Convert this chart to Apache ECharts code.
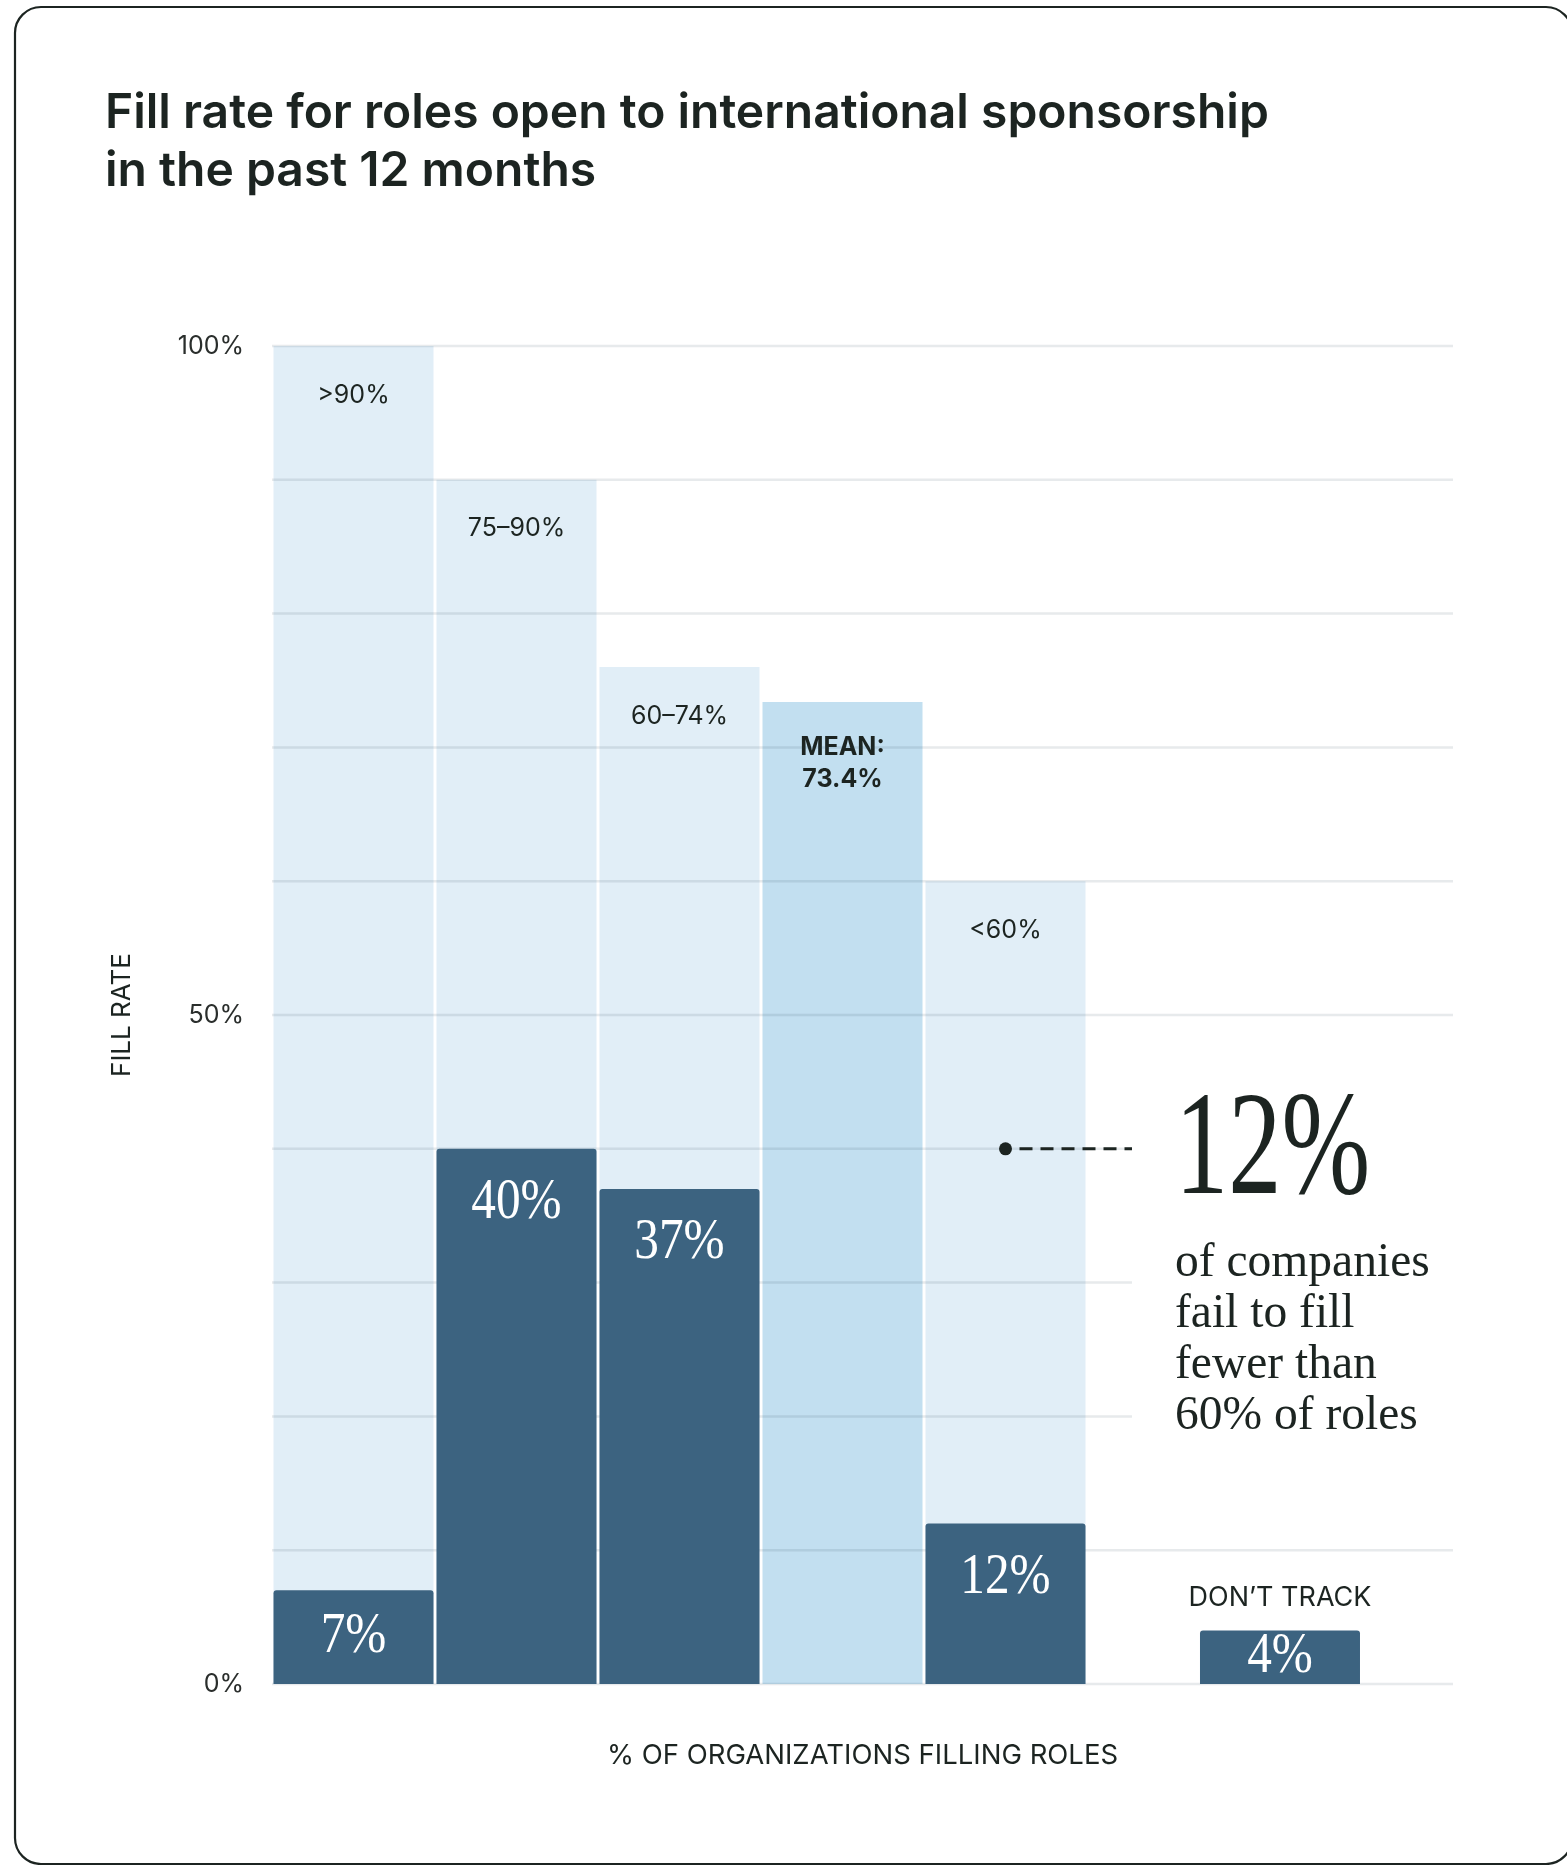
<!DOCTYPE html>
<html>
<head>
<meta charset="utf-8">
<style>
  html, body { margin: 0; padding: 0; background: #ffffff; }
  #chart { width: 1567px; height: 1865px; }
</style>
<script src="https://cdn.jsdelivr.net/npm/echarts@6/dist/echarts.min.js"></script>
</head>
<body>
<div id="chart"></div>
<script>
// ---- Data ----------------------------------------------------------------
// Fill-rate bins: label and the fill-rate level at the top of each band (%)
const binLabels = ['>90%', '75\u201390%', '60\u201374%', '<60%'];
const binTops = [100, 90, 76, 60];
// Share of organizations falling in each bin (%)
const binShares = [7, 40, 37, 12];
// Average fill rate across organizations (%)
const meanLabel = 'MEAN:';
const meanFillRate = 73.4;
// Organizations that do not track their fill rate (%)
const dontTrackLabel = 'DON\u2019T TRACK';
const dontTrackShare = 4;
// Fill-rate axis ticks and the labels printed for them
const yTicks = [0, 10, 20, 30, 40, 50, 60, 70, 80, 90, 100];
const yTickLabels = ['0%', '', '', '', '', '50%', '', '', '', '', '100%'];
// Texts
const titleLines = ['Fill rate for roles open to international sponsorship', 'in the past 12 months'];
const calloutLines = ['of companies', 'fail to fill', 'fewer than', '60% of roles'];

// ---- Layout & style --------------------------------------------------------
const W = 1567, H = 1865;
const GRID = { left: 272, right: 114, top: 346, bottom: 181 };
const SLOT_PX = 163;          // horizontal pitch of one column
const BAR_PX = 160;           // drawn column width (leaves a thin white seam)
const X_MIN = -0.5;
const X_MAX = X_MIN + (W - GRID.left - GRID.right) / SLOT_PX;
const binSlots = [0, 1, 2, 4];
const meanSlot = 3;
const dontTrackSlot = 5.684;
const calloutSlot = 4;         // callout dot sits over the "<60%" column
const calloutLevel = 40;
const calloutEndSlot = 4.776;  // where the dashed leader (and short gridlines) stop

const INK = '#1c2421';
const LIGHT = '#e1eef7';
const MEAN_FILL = '#c2dff0';
const DARK = '#3c6380';
const GRIDLINE = 'rgba(40,60,80,0.11)';
const SANS = 'Inter, "Noto Sans", sans-serif';
const SERIF = '"Liberation Serif", "DejaVu Serif", serif';

function columnRect(api, slot, top) {
  const a = api.coord([slot - 0.5, top]);
  const b = api.coord([slot + 0.5, 0]);
  const inset = ((b[0] - a[0]) - BAR_PX) / 2;
  return { x: a[0] + inset, y: a[1], width: BAR_PX, height: b[1] - a[1] };
}

function darkColumn(api, topLabel) {
  const v = api.value(1);
  const r = columnRect(api, api.value(0), v);
  const off = Math.min(54, r.height / 2);
  const children = [
    { type: 'rect', shape: { x: r.x, y: r.y, width: r.width, height: r.height, r: [3, 3, 0, 0] },
      style: { fill: DARK } },
    { type: 'text', x: r.x + r.width / 2, y: r.y + off, scaleX: 0.85,
      style: { text: v + '%', font: '400 58px ' + SERIF, fill: '#ffffff',
               align: 'center', verticalAlign: 'middle' } }
  ];
  if (topLabel) {
    children.push({ type: 'text', x: r.x + r.width / 2, y: r.y - 33,
      style: { text: topLabel, font: '400 27px ' + SANS, fill: INK,
               align: 'center', verticalAlign: 'middle' } });
  }
  return { type: 'group', children };
}

const chart = echarts.init(document.getElementById('chart'), null, { renderer: 'canvas', width: W, height: H });

chart.setOption({
  animation: false,
  backgroundColor: '#ffffff',
  title: {
    text: titleLines.join('\n'),
    left: 105, top: 85, padding: 0,
    textStyle: { fontFamily: SANS, fontWeight: 600, fontSize: 48, lineHeight: 58, color: INK }
  },
  grid: GRID,
  xAxis: {
    type: 'value', min: X_MIN, max: X_MAX,
    axisLine: { show: false }, axisTick: { show: false },
    axisLabel: { show: false }, splitLine: { show: false },
    name: '% OF ORGANIZATIONS FILLING ROLES',
    nameLocation: 'middle', nameGap: 58,
    nameTextStyle: { fontFamily: SANS, fontSize: 27.5, color: INK }
  },
  yAxis: {
    type: 'value', min: 0, max: 100, interval: 10,
    axisLine: { show: false }, axisTick: { show: false }, splitLine: { show: false },
    axisLabel: {
      margin: 28, fontFamily: SANS, fontSize: 25, color: '#2a2e2c',
      formatter: v => { const i = yTicks.indexOf(v); return i >= 0 ? yTickLabels[i] : ''; }
    },
    name: 'FILL RATE', nameLocation: 'middle', nameRotate: 90, nameGap: 137,
    nameTextStyle: { fontFamily: SANS, fontSize: 26, color: INK }
  },
  graphic: [{
    type: 'rect', silent: true, z: 100,
    shape: { x: 15, y: 7, width: 1557, height: 1857, r: 26 },
    style: { fill: 'none', stroke: INK, lineWidth: 2.2 }
  }],
  series: [
    // light fill-rate bands with their range labels
    {
      type: 'custom', z: 1, silent: true,
      data: binTops.map((t, i) => [binSlots[i], t]),
      renderItem(params, api) {
        const r = columnRect(api, api.value(0), api.value(1));
        return { type: 'group', children: [
          { type: 'rect', shape: r, style: { fill: LIGHT } },
          { type: 'text', x: r.x + r.width / 2, y: r.y + 49,
            style: { text: binLabels[params.dataIndex], font: '400 25px ' + SANS, fill: INK,
                     align: 'center', verticalAlign: 'middle' } }
        ] };
      }
    },
    // mean fill-rate column
    {
      type: 'custom', z: 1, silent: true,
      data: [[meanSlot, meanFillRate]],
      renderItem(params, api) {
        const v = api.value(1);
        const r = columnRect(api, api.value(0), v);
        return { type: 'group', children: [
          { type: 'rect', shape: r, style: { fill: MEAN_FILL } },
          { type: 'text', x: r.x + r.width / 2, y: r.y + 30,
            style: { text: meanLabel + '\n' + v.toFixed(1) + '%', font: '700 25px ' + SANS,
                     lineHeight: 32, fill: INK, align: 'center', verticalAlign: 'top' } }
        ] };
      }
    },
    // horizontal gridlines (drawn over the light bands, under the dark columns)
    {
      type: 'custom', z: 2, silent: true,
      data: yTicks.map(v => [v]),
      renderItem(params, api) {
        const v = api.value(0);
        const short = v >= 20 && v <= 40;
        const p0 = api.coord([X_MIN, v]);
        const p1 = api.coord([short ? calloutEndSlot : X_MAX, v]);
        return { type: 'line', shape: { x1: p0[0], y1: p0[1], x2: p1[0], y2: p1[1] },
                 style: { stroke: GRIDLINE, lineWidth: 2.5 } };
      }
    },
    // share of organizations per bin
    {
      type: 'custom', z: 3, silent: true,
      data: binShares.map((s, i) => [binSlots[i], s]),
      renderItem(params, api) { return darkColumn(api, null); }
    },
    // organizations that don't track
    {
      type: 'custom', z: 3, silent: true,
      data: [[dontTrackSlot, dontTrackShare]],
      renderItem(params, api) { return darkColumn(api, dontTrackLabel); }
    },
    // callout for the "<60%" group
    {
      type: 'custom', z: 4, silent: true,
      data: [[calloutSlot, calloutLevel, binShares[3]]],
      renderItem(params, api) {
        const p = api.coord([api.value(0), api.value(1)]);
        const e = api.coord([calloutEndSlot, api.value(1)]);
        const tx = e[0] + 43;
        return { type: 'group', children: [
          { type: 'circle', shape: { cx: p[0], cy: p[1], r: 6.5 }, style: { fill: INK } },
          { type: 'line', shape: { x1: p[0] + 14, y1: p[1], x2: e[0], y2: p[1] },
            style: { stroke: INK, lineWidth: 3, lineDash: [13, 8] } },
          { type: 'text', x: tx, y: p[1] + 5, scaleX: 0.72,
            style: { text: api.value(2) + '%', font: '400 148px ' + SERIF, fill: INK,
                     align: 'left', verticalAlign: 'middle' } },
          { type: 'text', x: tx, y: p[1] + 89, scaleX: 0.97,
            style: { text: calloutLines.join('\n'), font: '400 49px ' + SERIF, lineHeight: 51,
                     fill: INK, align: 'left', verticalAlign: 'top' } }
        ] };
      }
    }
  ]
});
</script>
</body>
</html>
